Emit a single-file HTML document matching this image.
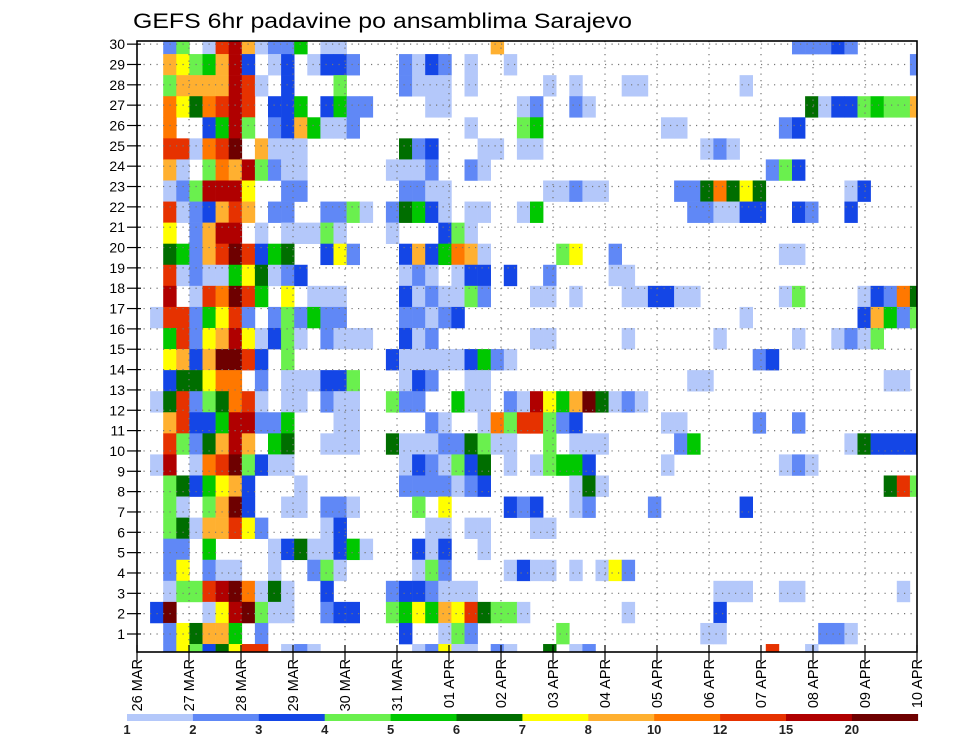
<!DOCTYPE html>
<html><head><meta charset="utf-8"><title>GEFS 6hr padavine</title>
<style>
html,body{margin:0;padding:0;background:#fff;}
svg{display:block;font-family:"Liberation Sans",sans-serif;}
</style></head>
<body>
<svg id="chart" width="960" height="742" viewBox="0 0 960 742" xmlns="http://www.w3.org/2000/svg">
<text x="133" y="28" font-size="21" textLength="499" lengthAdjust="spacingAndGlyphs" fill="#000">GEFS 6hr padavine po ansamblima Sarajevo</text>
<g id="cells"></g>
<g id="grid"></g>
<rect x="137" y="41" width="780" height="611" fill="none" stroke="#000" stroke-width="1.6"/>
<g id="yaxis"></g>
<g id="xaxis"></g>
<g id="legend"></g>
</svg>
<script>
// ---- data ----
// ensemble members (rows, top to bottom)
const members = [30,29,28,27,26,25,24,23,22,21,20,19,18,17,16,15,14,13,12,11,10,9,8,7,6,5,4,3,2,1];
// precipitation class per 6-hr step (0 = none, 1..c = colorbar classes)
const classRows = [
"002401ab81"+"2250110000"+"0000000800"+"0000000000"+"000000000"+"022232000000",
"0087458b30"+"1301332000"+"2132010010"+"0000000000"+"000000000"+"000000000020",
"0048888ba1"+"0300040000"+"2111010000"+"0101000110"+"000000100"+"000000000000",
"009769aba0"+"3350352200"+"0011000001"+"2002100000"+"000000000"+"006133454480",
"0090035b40"+"2385112000"+"0000010004"+"5000000000"+"110000000"+"230000000000",
"00aa19ac08"+"1110000000"+"6230001101"+"1000000000"+"000121000"+"000000000000",
"00810498b4"+"2110000001"+"1120021000"+"0000000000"+"000000002"+"430000000000",
"00124bbb70"+"0220000000"+"2211000000"+"0112110000"+"022696760"+"000001300000",
"00a1238a80"+"2200224102"+"6531011001"+"5000000000"+"002211330"+"032003000000",
"007028bb01"+"0111410001"+"0003410000"+"0000000000"+"000000000"+"000000000000",
"006528aca3"+"5600372000"+"3835981000"+"0047002000"+"000000000"+"110000000000",
"00a1211576"+"1230000000"+"1210133030"+"0200001100"+"000000000"+"000000000000",
"00b01a9ca5"+"0701110000"+"3121142000"+"1101000113"+"311000000"+"140000132960",
"01aa257a20"+"2425220000"+"2212300000"+"0000000000"+"000000100"+"000000385240",
"005a278b71"+"3410211100"+"3120000000"+"1100000100"+"000010000"+"010012140000",
"007838cca3"+"0400000003"+"1111135210"+"0000000000"+"000000023"+"000000000000",
"0036679902"+"0111334000"+"1320011000"+"0000000000"+"001100000"+"000000001100",
"016a2469a1"+"0110211004"+"2200511021"+"b758c61210"+"000000000"+"000000000000",
"008a335bb2"+"2500011000"+"002100194a"+"a423000000"+"110000020"+"020000000000",
"00a4268b80"+"5600111006"+"1112264110"+"0401110000"+"025000000"+"000001633330",
"01b019ac43"+"1100000000"+"1321436010"+"1455300000"+"100000000"+"121000000000",
"0046357830"+"0010000000"+"2222123000"+"0001610000"+"000000000"+"000000006a40",
"0041048c30"+"0110221000"+"0407000032"+"3001200002"+"000000300"+"000000000000",
"0046188a72"+"0000130000"+"0011011000"+"1100000000"+"000000000"+"000000000000",
"0022050000"+"1361135100"+"0313001000"+"0000000000"+"000000000"+"000000000000",
"0027021100"+"1002410000"+"0142000013"+"1101017200"+"000000000"+"000000000000",
"00144abc91"+"6100300002"+"3321110000"+"0000000000"+"000011100"+"110000000100",
"03c0017bc4"+"1100233004"+"57587a6441"+"0000000100"+"000030000"+"000000000000",
"0027688502"+"0000000000"+"3001420000"+"0040000000"+"000110000"+"000221000000",
"00274367aa"+"0121000000"+"0127110210"+"0601200000"+"00000000a"+"001000000000"
];
// y-axis tick labels
const yTickLabels = [1,2,3,4,5,6,7,8,9,10,11,12,13,14,15,16,17,18,19,20,21,22,23,24,25,26,27,28,29,30];
// x-axis day labels (every 24 h = 4 steps)
const dayLabels = ["26 MAR","27 MAR","28 MAR","29 MAR","30 MAR","31 MAR","01 APR","02 APR","03 APR","04 APR","05 APR","06 APR","07 APR","08 APR","09 APR","10 APR"];
// colorbar levels
const levelLabels = ["1","2","3","4","5","6","7","8","10","12","15","20"];
const classColors = ["#b4c8fa","#6088f6","#1446e6","#6af04e","#00c800","#006e00","#ffff00","#ffb030","#ff7800","#e63200","#b00000","#6e0000"];

// ---- axis functions ----
const NS = "http://www.w3.org/2000/svg";
const PX0 = 137, PX1 = 917, PY0 = 41, PY1 = 652;
function xCell(step){ return 137 + 13.1*step; }           // cell left edge
function xTick(step){ return PX0 + (PX1-PX0)*step/60; }   // axis position of step
function yCell(rowIdx){ return 33 + 21.07*rowIdx; }       // cell top edge
function yTick(member){ return 634 - (member-1)*20.34; }
function mk(tag, attrs, parent){ const e=document.createElementNS(NS,tag); for(const k in attrs) e.setAttribute(k,attrs[k]); parent.appendChild(e); return e; }

// ---- cells ----
const cells = document.getElementById('cells');
classRows.forEach((row, ri) => {
  for (let s = 0; s < row.length; s++) {
    const c = parseInt(row[s], 16);
    if (!c) continue;
    let x0 = Math.max(PX0, xCell(s)), x1 = Math.min(PX1, xCell(s+1));
    let y0 = Math.max(PY0, yCell(ri)), y1 = Math.min(PY1, yCell(ri+1));
    if (x1 <= x0 || y1 <= y0) continue;
    const r = mk('rect', {x:x0.toFixed(2), y:y0.toFixed(2), width:(x1-x0+0.3).toFixed(2), height:(y1-y0+0.3).toFixed(2), fill:classColors[c-1]}, cells);
    
    
  }
});

// ---- grid ----
const grid = document.getElementById('grid');
yTickLabels.forEach(m => {
  const l = mk('line', {x1:PX0, x2:PX1, y1:yTick(m), y2:yTick(m), stroke:'#777', 'stroke-width':1.2, 'stroke-dasharray':'1.2,5.3'}, grid);
  
  
});
dayLabels.forEach((d, i) => {
  if (i === 0 || i === dayLabels.length-1) return;
  const x = xTick(i*4);
  const l = mk('line', {x1:x, x2:x, y1:PY0, y2:PY1, stroke:'#777', 'stroke-width':1.2, 'stroke-dasharray':'1.2,5.3'}, grid);
  
  
});

// ---- y axis ----
const yaxis = document.getElementById('yaxis');
yTickLabels.forEach(m => {
  const y = yTick(m);
  const t = mk('line', {x1:127, x2:141, y1:y, y2:y, stroke:'#000', 'stroke-width':1.2}, yaxis);
  
  
  const tx = mk('text', {x:125, y:y+5, 'font-size':14, 'text-anchor':'end', fill:'#000'}, yaxis);
  tx.textContent = m;
  
  
});

// ---- x axis ----
const xaxis = document.getElementById('xaxis');
dayLabels.forEach((d, i) => {
  const x = xTick(i*4);
  const t = mk('line', {x1:x, x2:x, y1:645, y2:661, stroke:'#000', 'stroke-width':1.2}, xaxis);
  
  
  const tx = mk('text', {x:0, y:0, 'font-size':14.5, 'text-anchor':'end', fill:'#000', transform:'translate('+(x+5)+',659) rotate(-90)'}, xaxis);
  tx.textContent = d;
  
  
});

// ---- colorbar ----
const legend = document.getElementById('legend');
const CB0 = 127, CBW = 65.9;
classColors.forEach((col, i) => {
  const r = mk('rect', {x:CB0+i*CBW, y:714, width:CBW+0.3, height:7, fill:col}, legend);
  
  
});
levelLabels.forEach((lab, i) => {
  const tx = mk('text', {x:CB0+i*CBW, y:734, 'font-size':13, 'font-weight':'bold', 'text-anchor':'middle', fill:'#222'}, legend);
  tx.textContent = lab;
  
  
});
</script>
</body></html>
